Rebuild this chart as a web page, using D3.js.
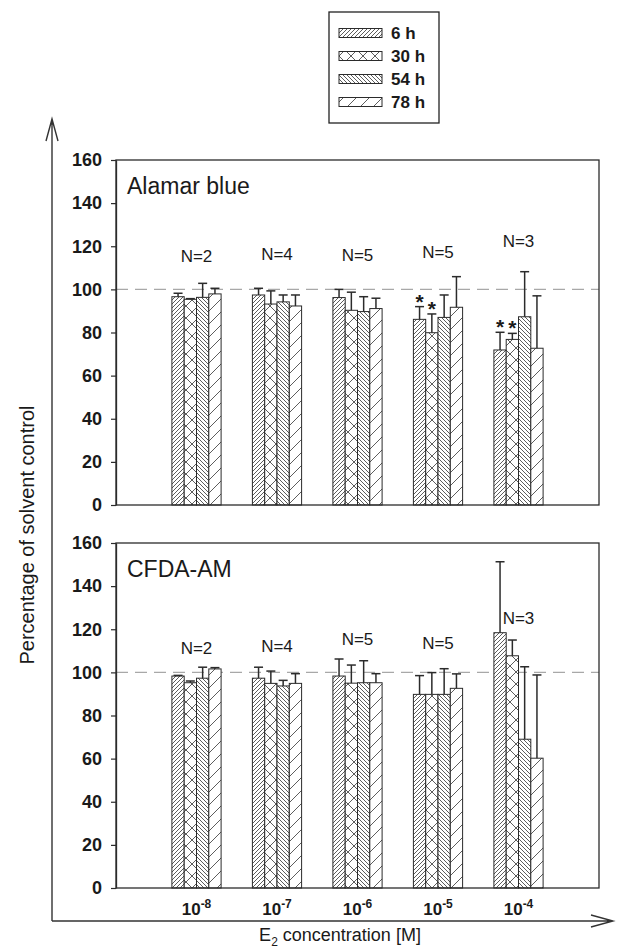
<!DOCTYPE html>
<html>
<head>
<meta charset="utf-8">
<script src="https://cdn.jsdelivr.net/npm/d3@7"></script>
<style>
  body { margin: 0; background: #fff; }
  svg text { font-family: "Liberation Sans", Arial, sans-serif; fill: #1a1a1a; }
</style>
</head>
<body>
<div id="chart"></div>
<script>
// data
const concentrations = ["-8", "-7", "-6", "-5", "-4"];
const series = ["6 h", "30 h", "54 h", "78 h"];
const yTicks = [0, 20, 40, 60, 80, 100, 120, 140, 160];
const nValues = [2, 4, 5, 5, 3];

// Alamar blue, one row per series
const alamarMeans = [
  [96.6, 97.4, 96.2, 86.1, 71.9],
  [95.4, 93.2, 90.3, 79.9, 76.8],
  [96.3, 94.2, 89.7, 87.0, 87.3],
  [97.9, 92.3, 91.1, 91.7, 72.7]
];
const alamarSd = [
  [1.6, 3.1, 3.8, 5.9, 8.2],
  [0.3, 6.1, 8.4, 8.7, 2.8],
  [6.5, 3.2, 6.9, 10.4, 20.9],
  [2.6, 5.1, 4.8, 14.2, 24.3]
];
const alamarNAt = [112.7, 113.5, 113, 114.6, 119.7];
// [series index, concentration index]
const alamarStars = [[0, 3], [1, 3], [0, 4], [1, 4]];

// CFDA-AM
const cfdaMeans = [
  [98.3, 97.3, 98.3, 89.8, 118.4],
  [95.2, 94.9, 95.0, 89.8, 107.7],
  [97.3, 93.7, 95.2, 89.8, 69.0],
  [101.6, 94.9, 95.2, 92.6, 60.2]
];
const cfdaSd = [
  [0.3, 5.1, 7.9, 8.7, 32.9],
  [0.8, 5.7, 8.4, 10.1, 7.3],
  [5.1, 2.6, 10.2, 11.9, 33.6],
  [0.6, 4.5, 4.2, 6.7, 38.6]
];
const cfdaNAt = [108.4, 109.6, 112.7, 110.7, 122.4];
const cfdaStars = [];

// layout
const width = 624, height = 950;
const plotLeft = 116, plotRight = 599, panelH = 345;
const ink = "#2b2b2b";

const svg = d3.select("#chart").append("svg")
  .attr("width", width)
  .attr("height", height);

// hatch patterns
const patterns = [
  { id: "p0", size: 4, d: "M-1,1 l2,-2 M0,4 l4,-4 M3,5 l2,-2" },
  { id: "p1", size: 12, d: "M0,0 L12,12 M0,12 L12,0" },
  { id: "p2", size: 4, d: "M-1,3 l2,2 M0,0 l4,4 M3,-1 l2,2" },
  { id: "p3", size: 13, d: "M-1,1 l2,-2 M0,13 l13,-13 M12,14 l2,-2" }
];
const defs = svg.append("defs");
patterns.forEach(p => {
  const pat = defs.append("pattern")
    .attr("id", p.id)
    .attr("patternUnits", "userSpaceOnUse")
    .attr("width", p.size)
    .attr("height", p.size);
  pat.append("rect").attr("width", p.size).attr("height", p.size).attr("fill", "#fff");
  pat.append("path").attr("d", p.d).attr("stroke", "#333").attr("stroke-width", 0.8).attr("fill", "none");
});

const x = d3.scalePoint().domain(concentrations).range([plotLeft, plotRight]).padding(1);
const xs = d3.scaleBand().domain(series).range([-24.6, 24.6]);

function drawPanel(top, title, means, sds, nAt, stars, showX) {
  const y = d3.scaleLinear().domain([0, 160]).range([top + panelH, top]);
  const g = svg.append("g");

  // reference line at 100 %
  g.append("line")
    .attr("x1", plotLeft).attr("x2", plotRight)
    .attr("y1", y(100)).attr("y2", y(100))
    .attr("stroke", "#a8a8a8").attr("stroke-width", 1.3)
    .attr("stroke-dasharray", "12,7");

  // bars
  series.forEach((s, si) => {
    const vals = concentrations.map((c, ci) => ({ c, v: means[si][ci], sd: sds[si][ci] }));
    const bg = g.append("g");
    bg.selectAll("rect")
      .data(vals)
      .enter()
      .append("rect")
      .attr("x", d => x(d.c) + xs(s))
      .attr("y", d => y(d.v))
      .attr("width", xs.bandwidth())
      .attr("height", d => y(0) - y(d.v))
      .attr("fill", "url(#p" + si + ")")
      .attr("stroke", ink)
      .attr("stroke-width", 1);

    // error bars, upper half only
    const cx = d => x(d.c) + xs(s) + xs.bandwidth() / 2;
    bg.selectAll("line.err")
      .data(vals)
      .enter()
      .append("line")
      .attr("class", "err")
      .attr("x1", cx).attr("x2", cx)
      .attr("y1", d => y(d.v)).attr("y2", d => y(d.v + d.sd))
      .attr("stroke", ink).attr("stroke-width", 1.5);
    bg.selectAll("line.cap")
      .data(vals)
      .enter()
      .append("line")
      .attr("class", "cap")
      .attr("x1", d => cx(d) - 4.5).attr("x2", d => cx(d) + 4.5)
      .attr("y1", d => y(d.v + d.sd)).attr("y2", d => y(d.v + d.sd))
      .attr("stroke", ink).attr("stroke-width", 1.5);
  });

  // significance stars
  g.selectAll("text.star")
    .data(stars)
    .enter()
    .append("text")
    .attr("class", "star")
    .attr("x", d => x(concentrations[d[1]]) + xs(series[d[0]]) + xs.bandwidth() / 2)
    .attr("y", d => y(means[d[0]][d[1]] + sds[d[0]][d[1]]) + 2)
    .attr("text-anchor", "middle")
    .attr("font-size", 21)
    .attr("font-weight", "bold")
    .text("*");

  // N labels
  g.selectAll("text.n")
    .data(concentrations)
    .enter()
    .append("text")
    .attr("class", "n")
    .attr("x", d => x(d))
    .attr("y", (d, i) => y(nAt[i]))
    .attr("text-anchor", "middle")
    .attr("font-size", 17)
    .text((d, i) => "N=" + nValues[i]);

  // frame
  g.append("rect")
    .attr("x", plotLeft).attr("y", top)
    .attr("width", plotRight - plotLeft).attr("height", panelH)
    .attr("fill", "none").attr("stroke", ink).attr("stroke-width", 1.3);

  // y axis
  const yAxis = d3.axisLeft(y).tickValues(yTicks).tickSize(5).tickSizeOuter(0).tickPadding(9);
  const ax = g.append("g").attr("transform", `translate(${plotLeft},0)`).call(yAxis);
  ax.select(".domain").attr("stroke", ink).attr("stroke-width", 1.3);
  ax.selectAll(".tick line").attr("stroke", ink).attr("stroke-width", 1.2);
  ax.selectAll(".tick text")
    .attr("font-size", 18)
    .attr("font-weight", "bold")
    .attr("font-family", '"Liberation Sans", Arial, sans-serif')
    .attr("fill", "#1a1a1a");

  g.append("text")
    .attr("x", plotLeft + 11)
    .attr("y", top + 34)
    .attr("font-size", 23)
    .text(title);

  if (showX) {
    const xl = g.selectAll("text.xl")
      .data(concentrations)
      .enter()
      .append("text")
      .attr("class", "xl")
      .attr("x", d => x(d))
      .attr("y", y(0) + 27)
      .attr("text-anchor", "middle")
      .attr("font-size", 17)
      .attr("font-weight", "bold");
    xl.append("tspan").text("10");
    xl.append("tspan")
      .attr("dy", -7)
      .attr("font-size", 12)
      .text(d => d);
  }
}

drawPanel(160, "Alamar blue", alamarMeans, alamarSd, alamarNAt, alamarStars, false);
drawPanel(543, "CFDA-AM", cfdaMeans, cfdaSd, cfdaNAt, cfdaStars, true);

// outer axes with open arrow heads
const outer = svg.append("g").attr("stroke", "#333").attr("stroke-width", 1.4).attr("fill", "none");
outer.append("path").attr("d", "M52,921 V119 M46,141 L52,119 L58,141");
outer.append("path").attr("d", "M52,921 H613 M591,915 L613,921 L591,927");

svg.append("text")
  .attr("transform", "translate(34,535) rotate(-90)")
  .attr("text-anchor", "middle")
  .attr("font-size", 20)
  .text("Percentage of solvent control");

const xTitle = svg.append("text")
  .attr("x", 340)
  .attr("y", 941)
  .attr("text-anchor", "middle")
  .attr("font-size", 18);
xTitle.append("tspan").text("E");
xTitle.append("tspan").attr("dy", 5).attr("font-size", 12).text("2");
xTitle.append("tspan").attr("dy", -5).text(" concentration [M]");

// legend
const legend = svg.append("g");
legend.append("rect")
  .attr("x", 329).attr("y", 12).attr("width", 110).attr("height", 111)
  .attr("fill", "#fff").attr("stroke", "#222").attr("stroke-width", 1.3);
const rows = legend.selectAll("g.row")
  .data(series)
  .enter()
  .append("g")
  .attr("class", "row")
  .attr("transform", (d, i) => `translate(339,${33 + i * 23})`);
rows.append("rect")
  .attr("y", -4.5).attr("width", 43).attr("height", 9)
  .attr("fill", (d, i) => "url(#p" + i + ")")
  .attr("stroke", ink).attr("stroke-width", 1);
rows.append("text")
  .attr("x", 52).attr("y", 6)
  .attr("font-size", 17)
  .attr("font-weight", "bold")
  .text(d => d);
</script>
</body>
</html>
